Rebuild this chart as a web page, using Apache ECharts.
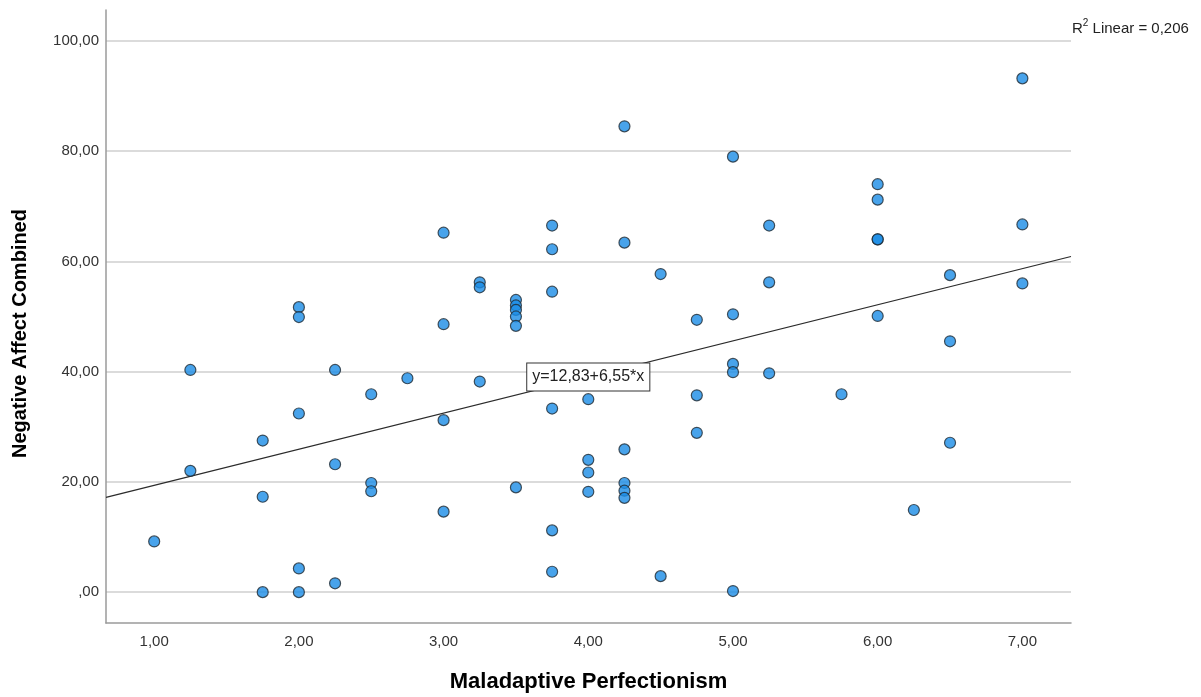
<!DOCTYPE html>
<html>
<head>
<meta charset="utf-8">
<title>Maladaptive Perfectionism vs Negative Affect</title>
<script src="https://cdn.jsdelivr.net/npm/echarts@6/dist/echarts.min.js"></script>
<style>
  html, body { margin: 0; padding: 0; background: #fff; }
  #chart { width: 1201px; height: 697px; }
</style>
</head>
<body>
<div id="chart"></div>
<script>
// values
const perfectionism = [
  1.00,
  1.25, 1.25,
  1.75, 1.75, 1.75,
  2.00, 2.00, 2.00, 2.00, 2.00,
  2.25, 2.25, 2.25,
  2.50, 2.50, 2.50,
  2.75,
  3.00, 3.00, 3.00, 3.00,
  3.25, 3.25, 3.25,
  3.50, 3.50, 3.50, 3.50, 3.50, 3.50,
  3.75, 3.75, 3.75, 3.75, 3.75, 3.75,
  4.00, 4.00, 4.00, 4.00,
  4.25, 4.25, 4.25, 4.25, 4.25, 4.25,
  4.50, 4.50,
  4.75, 4.75, 4.75,
  5.00, 5.00, 5.00, 5.00, 5.00,
  5.25, 5.25, 5.25,
  5.75,
  6.00, 6.00, 6.00, 6.00, 6.00,
  6.25,
  6.50, 6.50, 6.50,
  7.00, 7.00, 7.00
];
const negativeAffect = [
  9.2,
  40.3, 22.0,
  27.5, 17.3, 0.0,
  51.7, 49.9, 32.4, 4.3, 0.0,
  40.3, 23.2, 1.6,
  35.9, 19.8, 18.3,
  38.8,
  65.2, 48.6, 31.2, 14.6,
  56.2, 55.3, 38.2,
  53.0, 52.0, 51.2, 50.0, 48.3, 19.0,
  66.5, 62.2, 54.5, 33.3, 11.2, 3.7,
  35.0, 24.0, 21.7, 18.2,
  84.5, 63.4, 25.9, 19.8, 18.4, 17.1,
  57.7, 2.9,
  49.4, 35.7, 28.9,
  79.0, 50.4, 41.4, 39.9, 0.2,
  66.5, 56.2, 39.7,
  35.9,
  74.0, 71.2, 64.0, 64.0, 50.1,
  14.9,
  57.5, 45.5, 27.1,
  93.2, 66.7, 56.0
];

// fit line as printed on the chart
const intercept = 12.83;
const slope = 6.55;
const rSquared = '0,206';

const xTicks = [1, 2, 3, 4, 5, 6, 7];
const yTicks = [0, 20, 40, 60, 80, 100];
const xRange = [0.667, 7.336];
const yRange = [-5.6, 105.6];

const points = perfectionism.map((x, i) => [x, negativeAffect[i]]);
const fitLine = xRange.map(x => [x, intercept + slope * x]);

// SPSS style: comma decimals, no leading zero for 0
function spssFmt(v) {
  if (v === 0) return ',00';
  return v.toFixed(2).replace('.', ',');
}

const chart = echarts.init(document.getElementById('chart'));

const font = '"Liberation Sans", Arial, sans-serif';

const option = {
  animation: false,
  backgroundColor: '#fff',
  textStyle: { fontFamily: font },
  grid: {
    left: 106,
    top: 10,
    right: 130,
    bottom: 74,
    containLabel: false,
    outerBoundsMode: 'none'
  },
  title: {
    text: '{b|R}{s|2}{b| Linear = ' + rSquared + '}',
    left: 1072,
    top: 18,
    padding: 0,
    textStyle: {
      fontFamily: font,
      fontWeight: 'normal',
      rich: {
        b: { fontSize: 15, color: '#222', lineHeight: 18, verticalAlign: 'bottom', fontFamily: font, fontWeight: 'normal' },
        s: { fontSize: 10, color: '#222', lineHeight: 10, verticalAlign: 'top', fontFamily: font, fontWeight: 'normal' }
      }
    }
  },
  xAxis: {
    type: 'value',
    min: xRange[0],
    max: xRange[1],
    name: 'Maladaptive Perfectionism',
    nameLocation: 'middle',
    nameGap: 48,
    nameTextStyle: { fontSize: 22, fontWeight: 'bold', color: '#000', fontFamily: font },
    axisLine: { show: true, onZero: false, lineStyle: { color: '#9a9a9a', width: 1.5 } },
    axisTick: { show: false, customValues: xTicks },
    axisLabel: {
      customValues: xTicks,
      formatter: spssFmt,
      fontSize: 15,
      color: '#333',
      margin: 11,
      fontFamily: font
    },
    splitLine: { show: false }
  },
  yAxis: {
    type: 'value',
    min: yRange[0],
    max: yRange[1],
    name: 'Negative Affect Combined',
    nameLocation: 'middle',
    nameGap: 76,
    // SPSS puts this title a little below the plot centre
    nameTextStyle: { fontSize: 20, fontWeight: 'bold', color: '#000', fontFamily: font, padding: [0, 34, 0, 0] },
    axisLine: { show: true, onZero: false, lineStyle: { color: '#9a9a9a', width: 1.5 } },
    axisTick: { show: false, customValues: yTicks },
    axisLabel: {
      customValues: yTicks,
      formatter: spssFmt,
      fontSize: 15,
      color: '#333',
      margin: 7,
      fontFamily: font
    },
    splitLine: { show: true, lineStyle: { color: '#cfcfcf', width: 1.5 } }
  },
  series: [
    {
      name: 'Fit',
      type: 'line',
      data: fitLine,
      showSymbol: false,
      symbol: 'none',
      silent: true,
      z: 2,
      lineStyle: { color: '#2b2b2b', width: 1.2 },
      markPoint: {
        symbol: 'rect',
        symbolSize: 0,
        silent: true,
        data: [{ coord: [4, intercept + slope * 4] }],
        label: {
          show: true,
          position: 'inside',
          formatter: 'y=12,83+6,55*x',
          fontSize: 16,
          color: '#222',
          backgroundColor: '#fff',
          borderColor: '#333',
          borderWidth: 1,
          padding: [6, 5, 5, 5],
          fontFamily: font
        }
      }
    },
    {
      name: 'Negative Affect Combined',
      type: 'scatter',
      data: points,
      symbol: 'circle',
      symbolSize: 11,
      z: 3,
      itemStyle: {
        color: '#1a8ce6',
        borderColor: '#1f2a33',
        borderWidth: 1.2
      }
    }
  ]
};

chart.setOption(option);
</script>
</body>
</html>
